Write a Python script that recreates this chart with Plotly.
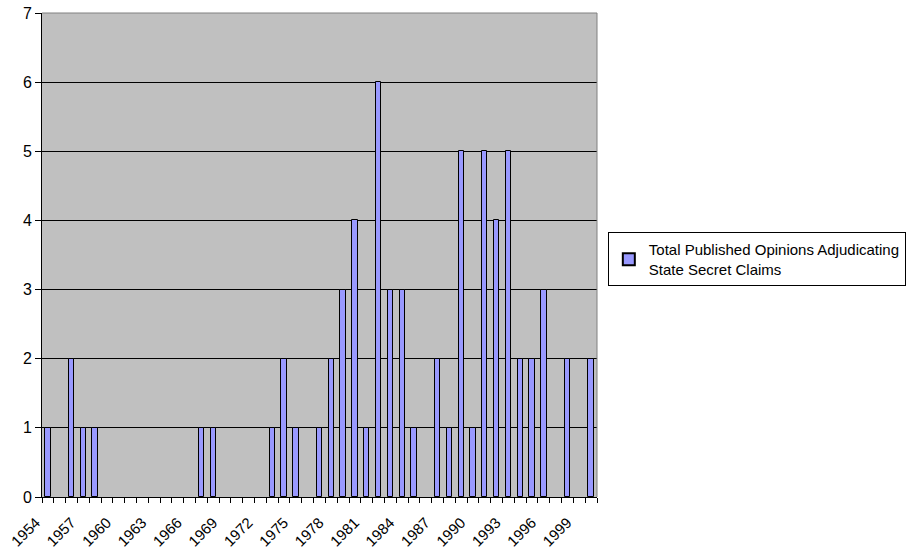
import plotly.graph_objects as go

years = list(range(1954, 2001))
counts = [1, 0, 2, 1, 1, 0, 0, 0, 0, 0, 0, 0, 0, 1, 1, 0, 0, 0, 0, 1, 2, 1, 0,
          1, 2, 3, 4, 1, 6, 3, 3, 1, 0, 2, 1, 5, 1, 5, 4, 5, 2, 2, 3, 0, 2, 0, 2]
tick_years = list(range(1954, 2000, 3))
tick_labels = [str(y) for y in tick_years]
series_name = "Total Published Opinions Adjudicating<br>State Secret Claims"

fig = go.Figure()
fig.add_trace(go.Bar(
    x=years, y=counts, name=series_name, width=0.45,
    marker=dict(color="#9999FF",
                line=dict(color="#000000",
                          width=[1 if c > 0 else 0 for c in counts])),
    showlegend=True,
))

fig.update_layout(
    width=913, height=552,
    margin=dict(l=42, r=316, t=13, b=55, autoexpand=False),
    paper_bgcolor="white", plot_bgcolor="#C0C0C0",
    font=dict(family="Liberation Sans, Arial, sans-serif", color="#000"),
    showlegend=True,
    legend=dict(x=1.0195, y=0.547, xanchor="left", yanchor="top",
                bgcolor="white", bordercolor="#000", borderwidth=1,
                font=dict(size=15), itemsizing="constant", itemwidth=30,
                tracegroupgap=0),
    bargap=0,
)
fig.update_xaxes(
    range=[1953.5, 2000.5], tickmode="array", tickvals=tick_years,
    ticktext=tick_labels, tickangle=-45, ticks="", ticklen=0,
    ticklabelstandoff=10, ticklabelshift=-12,
    tickfont=dict(size=15), showgrid=False, zeroline=False, automargin=False,
    showline=True, linecolor="#000", linewidth=1,
    minor=dict(tickmode="linear", tick0=1953.5, dtick=1, ticks="outside",
               ticklen=5, tickcolor="#000", showgrid=False),
)
fig.update_yaxes(
    range=[0, 7], dtick=1, tick0=0, ticks="outside", ticklen=6,
    tickcolor="#000", tickfont=dict(size=16), showgrid=True, automargin=False,
    ticklabeloverflow="allow", ticklabelstandoff=0,
    gridcolor="#000", gridwidth=1, zeroline=False,
    showline=True, linecolor="#000", linewidth=1,
)
fig.add_shape(type="line", xref="paper", yref="paper", x0=0, x1=1, y0=1, y1=1,
              line=dict(color="#808080", width=1), layer="above")
fig.add_shape(type="line", xref="paper", yref="paper", x0=1, x1=1, y0=0, y1=1,
              line=dict(color="#808080", width=1), layer="above")

fig.write_html("out.html", config={"displayModeBar": False},
               post_script="document.body.style.margin='0';")
